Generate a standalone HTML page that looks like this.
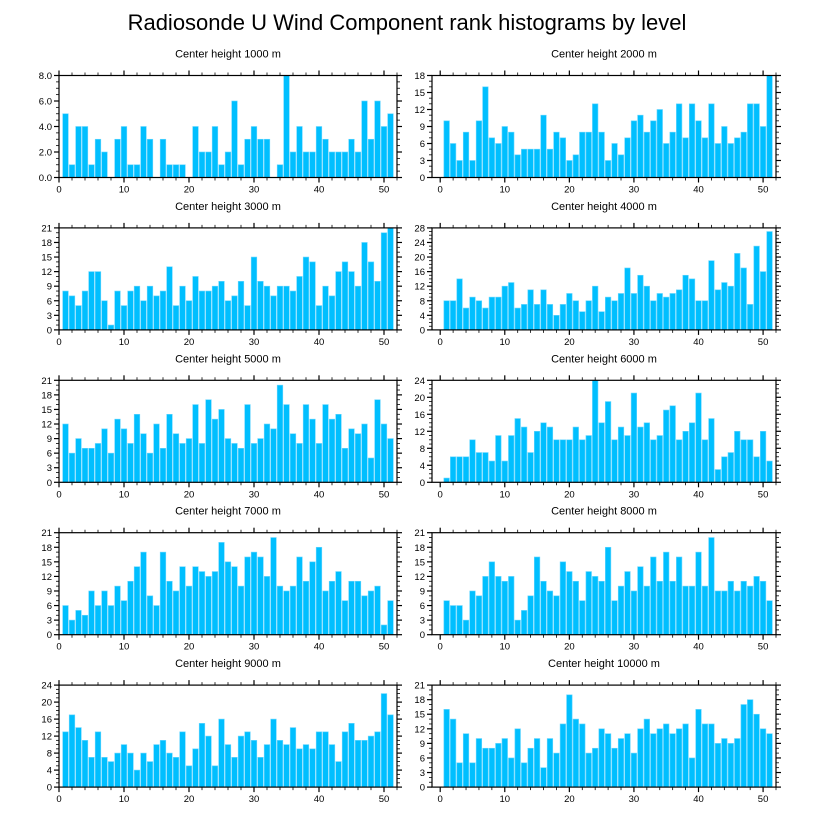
<!DOCTYPE html>
<html><head><meta charset="utf-8"><style>
body{margin:0;background:#fff;}
svg{display:block;font-family:"Liberation Sans",sans-serif;}
</style></head><body>
<svg id="chart" width="818" height="824" viewBox="0 0 818 824" xmlns="http://www.w3.org/2000/svg">
<text x="407" y="30" text-anchor="middle" font-size="22">Radiosonde U Wind Component rank histograms by level</text>
</svg>
<script>
const levels = ["1000","2000","3000","4000","5000","6000","7000","8000","9000","10000"];
const yMaxes = [8,18,21,28,21,24,21,21,24,21];
const ySteps = [2,3,3,4,3,4,3,3,4,3];
const xTicks = [0,10,20,30,40,50];
const counts1000 = [5,1,4,4,1,3,2,0,3,4,1,1,4,3,0,3,1,1,1,0,4,2,2,4,1,2,6,1,3,4,3,3,0,1,8,2,4,2,2,4,3,2,2,2,3,2,6,3,6,4,5];
const counts2000 = [10,6,3,8,3,10,16,7,6,9,8,4,5,5,5,11,5,8,7,3,4,8,8,13,8,3,6,4,7,10,11,8,10,12,6,8,13,7,13,10,7,13,6,9,6,7,8,13,13,9,18];
const counts3000 = [8,7,5,8,12,12,6,1,8,5,8,9,6,9,7,8,13,5,9,6,11,8,8,9,10,6,7,10,5,15,10,9,7,9,9,8,11,15,14,5,9,7,12,14,12,9,18,14,10,20,21];
const counts4000 = [8,8,14,6,9,8,6,9,9,12,13,6,7,11,7,11,7,4,7,10,8,5,8,12,5,9,8,10,17,10,15,12,8,10,9,10,11,15,14,8,8,19,11,13,12,21,17,7,23,16,27];
const counts5000 = [12,6,9,7,7,8,11,6,13,11,8,14,10,6,12,7,14,10,8,9,16,8,17,13,15,9,8,7,16,8,9,12,11,20,16,10,8,16,13,8,16,13,14,7,11,10,12,5,17,12,9];
const counts6000 = [1,6,6,6,10,7,7,5,11,5,11,15,13,7,12,14,13,10,10,10,13,10,11,24,14,19,10,13,11,21,13,14,10,11,17,18,10,12,14,21,10,15,3,6,7,12,10,10,6,12,5];
const counts7000 = [6,3,5,4,9,6,9,6,10,7,11,14,17,8,6,17,11,9,14,10,14,13,12,13,19,15,14,10,16,17,16,12,20,10,9,10,16,11,15,18,9,11,13,7,11,11,8,9,10,2,7];
const counts8000 = [7,6,6,3,9,8,12,15,12,11,12,3,5,8,16,11,9,8,15,13,11,7,13,12,11,18,7,10,13,9,14,10,16,11,17,11,16,10,10,17,10,20,9,9,11,9,11,10,12,11,7];
const counts9000 = [13,17,14,11,7,13,7,6,8,10,8,4,8,6,10,11,8,7,13,5,9,15,12,5,16,10,7,12,13,11,7,10,16,11,10,14,9,10,9,13,13,10,6,13,15,11,11,12,13,22,17];
const counts10000 = [16,14,5,11,5,10,8,8,9,10,6,12,5,8,10,4,10,7,13,19,14,13,7,8,12,11,8,10,11,7,12,14,11,12,13,11,12,13,6,16,13,13,9,10,9,10,17,18,15,12,11];
const allCounts = [counts1000,counts2000,counts3000,counts4000,counts5000,counts6000,counts7000,counts8000,counts9000,counts10000];

const svg = document.getElementById('chart');
const NS = 'http://www.w3.org/2000/svg';
function mk(tag, attrs, parent){const e=document.createElementNS(NS,tag);for(const k in attrs)e.setAttribute(k,attrs[k]);parent.appendChild(e);return e;}

allCounts.forEach((vals, i) => {
  const col = i % 2, row = Math.floor(i / 2);
  const L = col ? 432 : 59, R = col ? 776 : 397;
  const xmin = col ? -1.27 : 0, xmax = 52;
  const T = 75.5 + row * 152.4, B = T + 102;
  const ymax = yMaxes[i], ystep = ySteps[i];
  const xs = v => L + (v - xmin) / (xmax - xmin) * (R - L);
  const ys = v => B - v / ymax * (B - T);
  const g = mk('g', {}, svg);
  
  
  const t = mk('text', {x:(L+R)/2, y:T-18, 'text-anchor':'middle', 'font-size':'11'}, g);
  
  
  t.textContent = 'Center height ' + levels[i] + ' m';
  vals.forEach((v, k) => {
    const x = k + 1, w = 0.86;
    const r = mk('rect', {x:xs(x - w/2), y:ys(v), width:xs(x + w/2) - xs(x - w/2), height:ys(0) - ys(v), fill:'#00bfff', stroke:'#66d6ff', 'stroke-width':'0.6'}, g);
    
    
  });
  const f = mk('rect', {x:L, y:T, width:R-L, height:B-T, fill:'none', stroke:'#000', 'stroke-width':'1.2'}, g);
  
  
  for (let m = 0; m <= 52; m += 2) {
    const px = xs(m); if (px < L - 0.5 || px > R + 0.5) continue;
    const major = m % 10 === 0, len = major ? 5 : 3;
    mk('line', {x1:px, x2:px, y1:B, y2:B+len, stroke:'#000', 'stroke-width': major?1.2:0.8}, g);
    mk('line', {x1:px, x2:px, y1:T, y2:T-len, stroke:'#000', 'stroke-width': major?1.2:0.8}, g);
  }
  xTicks.forEach(v => {
    const tl = mk('text', {x:xs(v), y:B+15, 'text-anchor':'middle', 'font-size':'9.5'}, g);
    
    
    tl.textContent = v;
  });
  const minor = ystep / (ystep === 3 ? 3 : 4);
  for (let v = 0; v <= ymax + 1e-6; v += minor) {
    const py = ys(v);
    const isMaj = Math.abs(v / ystep - Math.round(v / ystep)) < 1e-6;
    const len = isMaj ? 5 : 3;
    mk('line', {x1:L, x2:L-len, y1:py, y2:py, stroke:'#000', 'stroke-width': isMaj?1.2:0.8}, g);
    mk('line', {x1:R, x2:R+len, y1:py, y2:py, stroke:'#000', 'stroke-width': isMaj?1.2:0.8}, g);
  }
  for (let v = 0; v <= ymax + 1e-6; v += ystep) {
    const yl = mk('text', {x:L-7, y:ys(v)+3.5, 'text-anchor':'end', 'font-size':'9.5'}, g);
    
    
    yl.textContent = ystep === 2 ? v.toFixed(1) : v;
  }
});
</script>
</body></html>
